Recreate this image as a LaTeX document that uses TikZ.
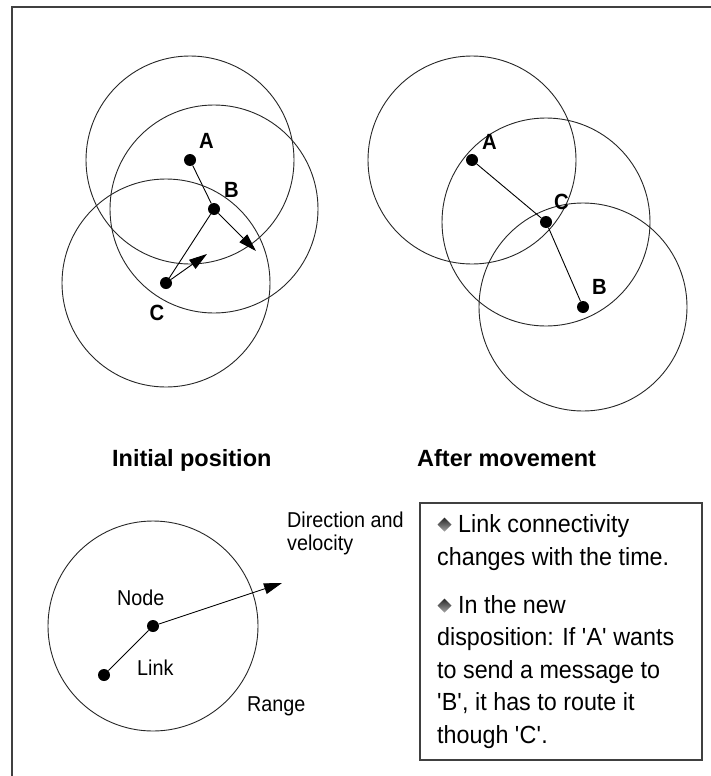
\documentclass[tikz,border=0pt]{standalone}
\usepackage{fontspec}
\setmainfont{Liberation Sans}
\newfontfamily\condsans[FakeStretch=0.92]{Liberation Sans}
\newfontfamily\boxsans[FakeStretch=0.94]{Liberation Sans}
\usetikzlibrary{arrows.meta}
\begin{document}
\begin{tikzpicture}[x=1pt,y=-1pt,
  dotnode/.style={circle,fill=black,inner sep=0pt,minimum size=12pt},
  rangecirc/.style={draw=black!85,line width=0.9pt},
  linkline/.style={draw=black,line width=0.9pt},
  movearrow/.style={draw=black,line width=0.9pt,-{Triangle[length=18pt,width=11pt]}},
  letterlab/.style={font=\condsans\fontsize{22}{26}\selectfont\bfseries,inner sep=0pt},
  smalltxt/.style={font=\condsans\fontsize{21.5}{23}\selectfont,inner sep=0pt,anchor=base west},
  titletxt/.style={font=\fontsize{23.5}{27}\selectfont\bfseries,inner sep=0pt,anchor=base west},
  boxtxt/.style={font=\boxsans\fontsize{24.8}{32}\selectfont,inner sep=0pt,anchor=base west},
  framestyle/.style={draw=black!75,line width=1.6pt},
  bulletshade/.style={top color=black!85,bottom color=black!35,draw=none}
]
\useasboundingbox (0,0) rectangle (711,776);

% outer frame (left and top edges)
\coordinate (fbl) at (12,776);
\coordinate (ftl) at (12,7);
\coordinate (ftr) at (711,7);
\draw[framestyle] (fbl) -- (ftl) -- (ftr);

% ---------- Initial position ----------
\node[dotnode] (A1) at (190,160) {};
\node[dotnode] (B1) at (214,209) {};
\node[dotnode] (C1) at (166,283) {};
\draw[rangecirc] (A1.center) circle[radius=104pt];
\draw[rangecirc] (B1.center) circle[radius=104pt];
\draw[rangecirc] (C1.center) circle[radius=104pt];
\draw[linkline] (A1) -- (B1);
\draw[linkline] (B1) -- (C1);
\coordinate (tB1) at (256,251);
\coordinate (tC1) at (207,254);
\draw[movearrow] (B1) -- (tB1);
\draw[movearrow] (C1) -- (tC1);
\node[letterlab] (lA1) at (206.5,141) {A};
\node[letterlab] (lB1) at (231.5,190) {B};
\node[letterlab] (lC1) at (157,313) {C};

% ---------- After movement ----------
\node[dotnode] (A2) at (472,160) {};
\node[dotnode] (C2) at (546,222) {};
\node[dotnode] (B2) at (583,307) {};
\draw[rangecirc] (A2.center) circle[radius=104pt];
\draw[rangecirc] (C2.center) circle[radius=104pt];
\draw[rangecirc] (B2.center) circle[radius=104pt];
\draw[linkline] (A2) -- (C2);
\draw[linkline] (C2) -- (B2);
\node[letterlab] (lA2) at (489.5,141.5) {A};
\node[letterlab] (lC2) at (561.5,201.5) {C};
\node[letterlab] (lB2) at (599.5,287) {B};

% titles
\node[titletxt] (t1) at (112,466) {Initial position};
\node[titletxt] (t2) at (417,466) {After movement};

% ---------- Legend ----------
\node[dotnode] (N) at (153,626) {};
\node[dotnode] (M) at (104,675) {};
\draw[rangecirc] (N.center) circle[radius=105pt];
\draw[linkline] (M) -- (N);
\coordinate (tN) at (282,583);
\draw[movearrow] (N) -- (tN);
\node[smalltxt] (lnode) at (117,605) {Node};
\node[smalltxt] (llink) at (137,675) {Link};
\node[smalltxt] (lrange) at (247,711) {Range};
\node[smalltxt] (ldir1) at (287,527) {Direction and};
\node[smalltxt] (ldir2) at (287,550) {velocity};

% ---------- Text box ----------
\draw[framestyle] (420,503) rectangle (702,760);
\shade[bulletshade] (437.5,524.5) -- (444.5,517.5) -- (451.5,524.5) -- (444.5,531.5) -- cycle;
\node[boxtxt] (p1a) at (458,532) {Link connectivity};
\node[boxtxt] (p1b) at (437,565) {changes with the time.};
\shade[bulletshade] (437.5,605.5) -- (444.5,598.5) -- (451.5,605.5) -- (444.5,612.5) -- cycle;
\node[boxtxt] (p2a) at (458,613) {In the new};
\node[boxtxt] (p2b) at (437,645) {disposition: If \textquotesingle A\textquotesingle\ wants};
\node[boxtxt] (p2c) at (437,678) {to send a message to};
\node[boxtxt] (p2d) at (437,710) {\textquotesingle B\textquotesingle, it has to route it};
\node[boxtxt] (p2e) at (437,743) {though \textquotesingle C\textquotesingle.};
\end{tikzpicture}
\end{document}
